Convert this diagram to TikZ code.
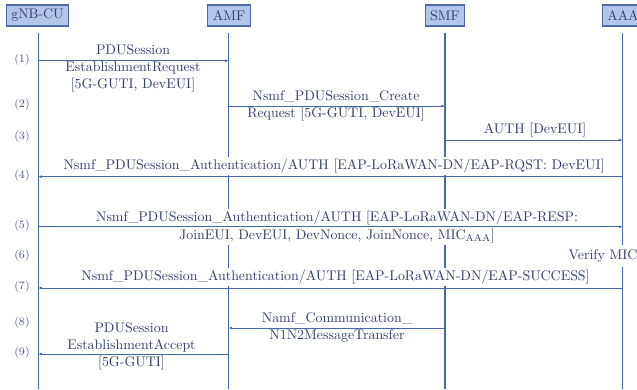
\documentclass[tikz,border=0pt]{standalone}
\usetikzlibrary{arrows.meta,calc}
\definecolor{lnblue}{RGB}{68,104,168}
\definecolor{txtc}{RGB}{50,62,108}
\definecolor{numc}{RGB}{80,92,135}
\definecolor{hdrfill}{RGB}{178,198,234}
\definecolor{hdrline}{RGB}{78,104,162}
\begin{document}
\begin{tikzpicture}[x=0.7043pt,y=-0.7043pt,
  hdr/.style={draw=hdrline,fill=hdrfill,line width=0.8pt,minimum height=14.8pt,inner xsep=3.5pt,inner ysep=0pt,text=txtc,font=\fontsize{9.8pt}{12pt}\selectfont},
  life/.style={draw=lnblue,line width=0.9pt},
  msg/.style={draw=lnblue,line width=0.6pt,-{Latex[length=2.6pt,width=2.2pt]}},
  lbl/.style={fill=white,align=center,inner xsep=1pt,inner ysep=1.5pt,text=txtc,font=\fontsize{9.8pt}{12pt}\selectfont},
  num/.style={text=numc,font=\footnotesize,inner sep=0pt}]
\useasboundingbox (0,0) rectangle (637,389);
% headers
\node[hdr] (gnb) at (37.5,15.5) {gNB-CU};
\node[hdr] (amf) at (229,15.5) {AMF};
\node[hdr] (smf) at (445,15.5) {SMF};
\node[hdr] (aaa) at (623,15.5) {AAA};
% lifeline ends
\coordinate (gT) at (38.3,33); \coordinate (gB) at (38.3,389);
\coordinate (mT) at (228.5,33); \coordinate (mB) at (228.5,389);
\coordinate (sT) at (445,33); \coordinate (sB) at (445,389);
\coordinate (aT) at (622.5,33); \coordinate (aB) at (622.5,389);
\draw[life] (gT) -- (gB);
\draw[life] (mT) -- (mB);
\draw[life] (sT) -- (sB);
\draw[life] (aT) -- (aB);
% message heights
\coordinate (y1) at (0,60.7);
\coordinate (y2) at (0,106);
\coordinate (y3) at (0,140);
\coordinate (y4) at (0,176.7);
\coordinate (y5) at (0,226.7);
\coordinate (y7) at (0,288);
\coordinate (y8) at (0,328);
\coordinate (y9) at (0,354);
% labels
\node[lbl] (l1) at (133,68) {PDUSession\\EstablishmentRequest\\{[5G-GUTI, DevEUI]}};
\node[lbl] (l2) at (336,106) {Nsmf\_PDUSession\_Create\\Request [5G-GUTI, DevEUI]};
\node[lbl] (l3) at (535,130) {AUTH [DevEUI]};
\node[lbl] (l4) at (334,166) {Nsmf\_PDUSession\_Authentication/AUTH [EAP-LoRaWAN-DN/EAP-RQST: DevEUI]};
\node[lbl] (l5) at (337,227) {Nsmf\_PDUSession\_Authentication/AUTH [EAP-LoRaWAN-DN/EAP-RESP:\\JoinEUI, DevEUI, DevNonce, JoinNonce, MIC\textsubscript{AAA}]};
\node[lbl,inner ysep=3.5pt] (l6) at (603,256) {Verify MIC};
\node[lbl] (l7) at (335.5,277) {Nsmf\_PDUSession\_Authentication/AUTH [EAP-LoRaWAN-DN/EAP-SUCCESS]};
\node[lbl] (l8) at (337,328) {Namf\_Communication\_\\N1N2MessageTransfer};
\node[lbl] (l9) at (131.5,346) {PDUSession\\EstablishmentAccept\\{[5G-GUTI]}};
% arrows
\draw[msg] (gT |- y1) -- (mT |- y1);
\draw[msg] (mT |- y2) -- (sT |- y2);
\draw[msg] (sT |- y3) -- (aT |- y3);
\draw[msg] (aT |- y4) -- (gT |- y4);
\draw[msg] (gT |- y5) -- (aT |- y5);
\draw[msg] (aT |- y7) -- (gT |- y7);
\draw[msg] (sT |- y8) -- (mT |- y8);
\draw[msg] (mT |- y9) -- (gT |- y9);
% step numbers
\node[num] (n1) at (22,60) {(1)};
\node[num] (n2) at (22,104.5) {(2)};
\node[num] (n3) at (22,137) {(3)};
\node[num] (n4) at (22,176) {(4)};
\node[num] (n5) at (22,226) {(5)};
\node[num] (n6) at (22,255.5) {(6)};
\node[num] (n7) at (22,287) {(7)};
\node[num] (n8) at (22,323) {(8)};
\node[num] (n9) at (22,353) {(9)};
\end{tikzpicture}
\end{document}
